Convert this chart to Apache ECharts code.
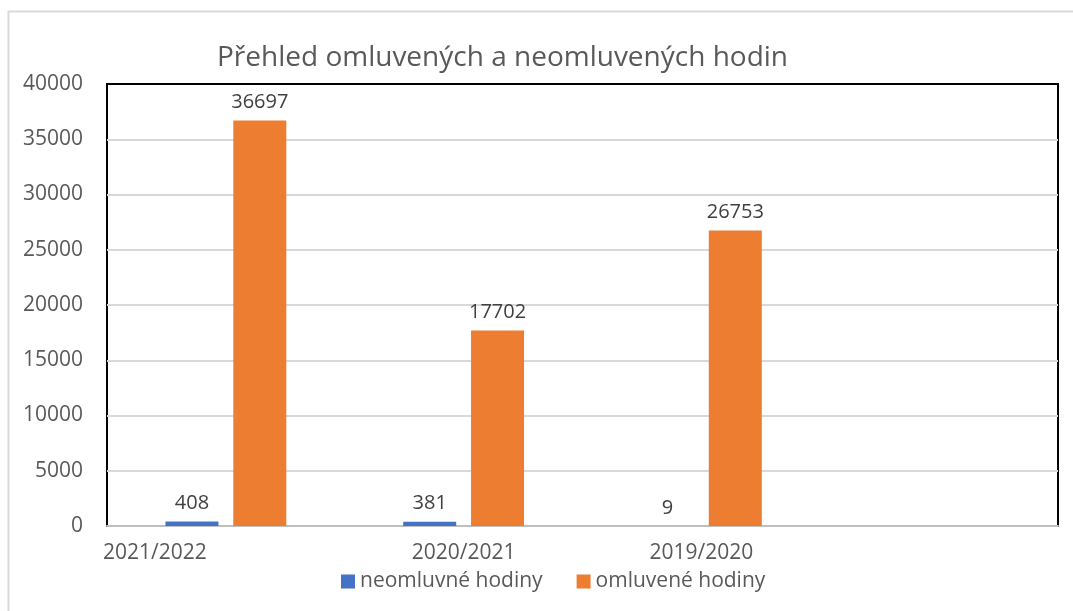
<!DOCTYPE html>
<html>
<head>
<meta charset="utf-8">
<script src="https://cdn.jsdelivr.net/npm/echarts@6/dist/echarts.min.js"></script>
<style>
  html, body { margin: 0; padding: 0; background: #fff; }
  #chart { width: 1073px; height: 611px; }
</style>
</head>
<body>
<div id="chart"></div>
<script>
// školní roky (poslední kategorie je v originálu prázdná)
var categories = ['2021/2022', '2020/2021', '2019/2020', ''];
var neomluvene = [408, 381, 9, null];
var omluvene = [36697, 17702, 26753, null];
var yTicks = [0, 5000, 10000, 15000, 20000, 25000, 30000, 35000, 40000];

var font = '"Open Sans", "Noto Sans", sans-serif';
var chart = echarts.init(document.getElementById('chart'));

var option = {
    backgroundColor: '#fff',
    animation: false,
    textStyle: { fontFamily: font },
    title: {
        text: 'Přehled omluvených a neomluvených hodin',
        left: 212,
        top: 39,
        textStyle: { fontSize: 28, fontWeight: 'normal', color: '#595959', fontFamily: font }
    },
    graphic: [{
        type: 'rect',
        shape: { x: 8.5, y: 11.5, width: 1200, height: 800 },
        style: { fill: 'none', stroke: '#d9d9d9', lineWidth: 2 },
        silent: true
    }],
    legend: {
        top: 566,
        left: 336,
        itemWidth: 14,
        itemHeight: 14,
        itemGap: 34,
        icon: 'rect',
        textStyle: { fontSize: 21, color: '#595959', fontFamily: font },
        data: ['neomluvné hodiny', 'omluvené hodiny']
    },
    grid: {
        left: 107, right: 15, top: 84, bottom: 85,
        show: true,
        borderColor: '#000',
        borderWidth: 2
    },
    xAxis: {
        type: 'category',
        data: categories,
        axisLine: { lineStyle: { color: '#bfbfbf', width: 2 } },
        axisTick: { show: false },
        axisLabel: {
            fontSize: 21,
            color: '#595959',
            margin: 17,
            interval: 0,
            formatter: function (v, i) {
                // první popisek je v originálu posunutý doleva
                return i === 0 ? '{first|' + v + '}' : v;
            },
            rich: {
                first: { fontSize: 21, color: '#595959', padding: [0, 142, 0, 0] }
            }
        }
    },
    yAxis: {
        type: 'value',
        min: yTicks[0],
        max: yTicks[yTicks.length - 1],
        interval: 5000,
        axisLine: { show: false },
        axisTick: { show: false },
        axisLabel: {
            fontSize: 21, color: '#595959', margin: 24,
            formatter: function (v) { return String(v); }
        },
        splitLine: { showMaxLine: false, showMinLine: false, lineStyle: { color: '#d9d9d9', width: 2 } }
    },
    series: [{
        name: 'neomluvné hodiny',
        type: 'bar',
        data: neomluvene,
        barWidth: 53,
        barGap: '28%',
        itemStyle: { color: '#4472c4' },
        label: { show: true, position: 'top', distance: 8, fontSize: 20, color: '#404040' }
    }, {
        name: 'omluvené hodiny',
        type: 'bar',
        data: omluvene,
        barWidth: 53,
        barGap: '28%',
        itemStyle: { color: '#ed7d31' },
        label: { show: true, position: 'top', distance: 8, fontSize: 20, color: '#404040' }
    }]
};

chart.setOption(option);
</script>
</body>
</html>
